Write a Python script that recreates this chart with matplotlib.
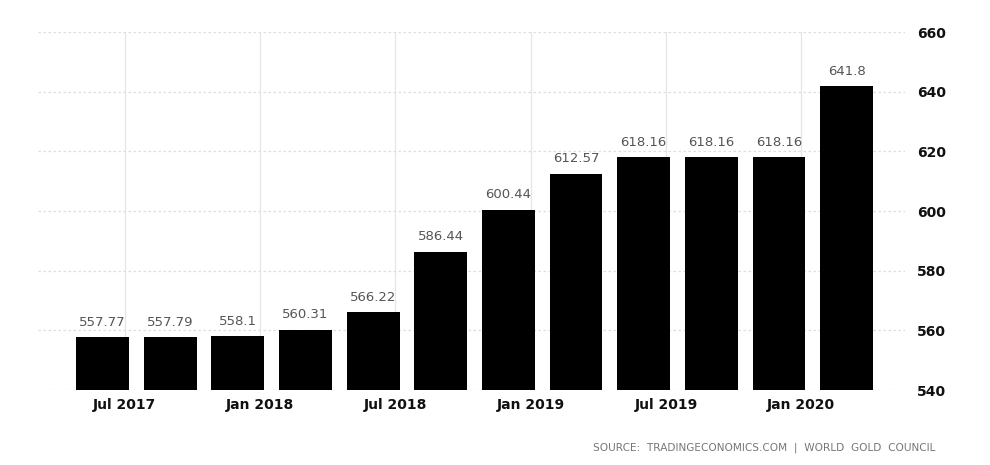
import matplotlib
matplotlib.use("Agg")
import matplotlib.pyplot as plt
import numpy as np

quarters = ["Jul 2017", "Oct 2017", "Jan 2018", "Apr 2018", "Jul 2018", "Oct 2018",
            "Jan 2019", "Apr 2019", "Jul 2019", "Oct 2019", "Jan 2020", "Apr 2020"]
values = [557.77, 557.79, 558.1, 560.31, 566.22, 586.44,
          600.44, 612.57, 618.16, 618.16, 618.16, 641.8]
value_labels = ["557.77", "557.79", "558.1", "560.31", "566.22", "586.44",
                "600.44", "612.57", "618.16", "618.16", "618.16", "641.8"]
tick_labels = ["Jul 2017", "Jan 2018", "Jul 2018", "Jan 2019", "Jul 2019", "Jan 2020"]
yticks = [540, 560, 580, 600, 620, 640, 660]

fig = plt.figure(figsize=(9.9, 4.65), dpi=100)
ax = fig.add_axes([0.038, 0.161, 0.876, 0.770])

x = np.arange(len(values))
bottom = 540
ax.bar(x, np.array(values) - bottom, bottom=bottom, width=0.78, color="black", zorder=3)

for xi, v, lab in zip(x, values, value_labels):
    ax.annotate(lab, (xi, v), xytext=(0, 6), textcoords="offset points",
                ha="center", va="bottom", fontsize=9.5, color="#555555")

tick_pos = [i + 0.33 for i in range(0, len(values), 2)]
ax.set_xticks(tick_pos)
ax.set_xticklabels(tick_labels, fontsize=10, fontweight="semibold", color="#111111")
ax.set_xlim(-0.96, 11.86)
ax.set_ylim(540, 660)
ax.set_yticks(yticks)
ax.yaxis.tick_right()
ax.tick_params(axis="y", labelsize=10, length=0, pad=9, labelcolor="#111111")
for t in ax.get_yticklabels():
    t.set_fontweight("semibold")
ax.tick_params(axis="x", length=0, pad=6)

ax.grid(axis="y", color="#dddddd", linestyle=(0, (2, 2)), linewidth=0.9, zorder=0)
ax.grid(axis="x", color="#e6e6e6", linestyle="-", linewidth=0.9, zorder=0)
for s in ax.spines.values():
    s.set_visible(False)

fig.text(0.945, 0.038, "SOURCE:  TRADINGECONOMICS.COM  |  WORLD  GOLD  COUNCIL",
         ha="right", va="center", fontsize=7.6, color="#777777")

fig.savefig("out.png", dpi=100)
